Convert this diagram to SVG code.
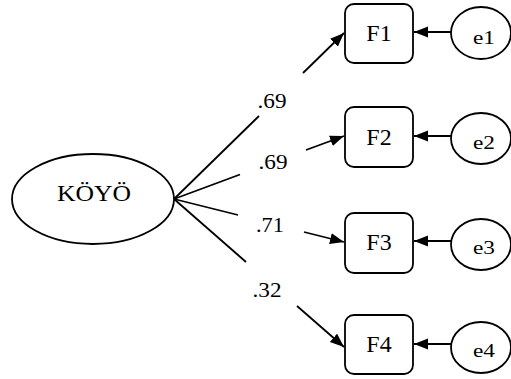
<svg xmlns="http://www.w3.org/2000/svg" width="511" height="379" viewBox="0 0 511 379">
<style>
.n{fill:#fff;stroke:#000;stroke-width:1.8}
.t{font-family:'Liberation Serif','DejaVu Serif','Times New Roman',serif;fill:#000;text-anchor:middle}
.c{stroke:#000;stroke-width:1.8;fill:none}
</style>
<defs>
<marker id="ah" markerUnits="userSpaceOnUse" markerWidth="15" markerHeight="12" refX="14" refY="5.5" orient="auto">
<path d="M0,0 L14,5.5 L0,11 z" fill="#000"/>
</marker>
</defs>
<rect width="511" height="379" fill="#fff"/>
<g id="connectors">
<line class="c" x1="174" y1="199" x2="259" y2="116"/>
<line class="c" x1="303" y1="73" x2="344" y2="33" marker-end="url(#ah)"/>
<line class="c" x1="174" y1="199" x2="240" y2="174.5"/>
<line class="c" x1="306" y1="150" x2="344" y2="136" marker-end="url(#ah)"/>
<line class="c" x1="174" y1="199" x2="238" y2="215"/>
<line class="c" x1="304" y1="232" x2="344" y2="242" marker-end="url(#ah)"/>
<line class="c" x1="174" y1="199" x2="246" y2="262"/>
<line class="c" x1="297" y1="306" x2="344" y2="347" marker-end="url(#ah)"/>
<line class="c" x1="451" y1="32" x2="414" y2="32" marker-end="url(#ah)"/>
<line class="c" x1="451" y1="136" x2="414" y2="136" marker-end="url(#ah)"/>
<line class="c" x1="451" y1="241" x2="414" y2="241" marker-end="url(#ah)"/>
<line class="c" x1="451" y1="344" x2="414" y2="344" marker-end="url(#ah)"/>
<text class="t" x="272" y="108" font-size="21" textLength="29" lengthAdjust="spacingAndGlyphs">.69</text>
<text class="t" x="273" y="169" font-size="21" textLength="29" lengthAdjust="spacingAndGlyphs">.69</text>
<text class="t" x="270" y="232" font-size="21" textLength="28" lengthAdjust="spacingAndGlyphs">.71</text>
<text class="t" x="267" y="297" font-size="21" textLength="29" lengthAdjust="spacingAndGlyphs">.32</text>
</g>
<g id="KOYO">
<ellipse class="n" cx="93" cy="199" rx="81" ry="45"/>
<text class="t" x="94" y="201" font-size="23" textLength="74" lengthAdjust="spacingAndGlyphs">KÖYÖ</text>
</g>
<g id="F1"><rect class="n" x="345" y="4" width="68" height="59" rx="9"/><text class="t" x="379" y="41" font-size="24">F1</text></g>
<g id="F2"><rect class="n" x="345" y="107" width="68" height="60" rx="9"/><text class="t" x="379" y="145" font-size="24">F2</text></g>
<g id="F3"><rect class="n" x="345" y="213" width="68" height="60" rx="9"/><text class="t" x="379" y="250" font-size="24">F3</text></g>
<g id="F4"><rect class="n" x="345" y="315" width="68" height="59" rx="9"/><text class="t" x="379" y="352" font-size="24">F4</text></g>
<g id="e1"><ellipse class="n" cx="481" cy="33" rx="30" ry="26"/><text class="t" x="484" y="44" font-size="18" textLength="22" lengthAdjust="spacingAndGlyphs">e1</text></g>
<g id="e2"><ellipse class="n" cx="481" cy="138.5" rx="30" ry="25.5"/><text class="t" x="484" y="149" font-size="18" textLength="22" lengthAdjust="spacingAndGlyphs">e2</text></g>
<g id="e3"><ellipse class="n" cx="481" cy="244.5" rx="30" ry="25.5"/><text class="t" x="484" y="254" font-size="18" textLength="22" lengthAdjust="spacingAndGlyphs">e3</text></g>
<g id="e4"><ellipse class="n" cx="481" cy="347.5" rx="30" ry="25.5"/><text class="t" x="484" y="357" font-size="18" textLength="22" lengthAdjust="spacingAndGlyphs">e4</text></g>
</svg>
